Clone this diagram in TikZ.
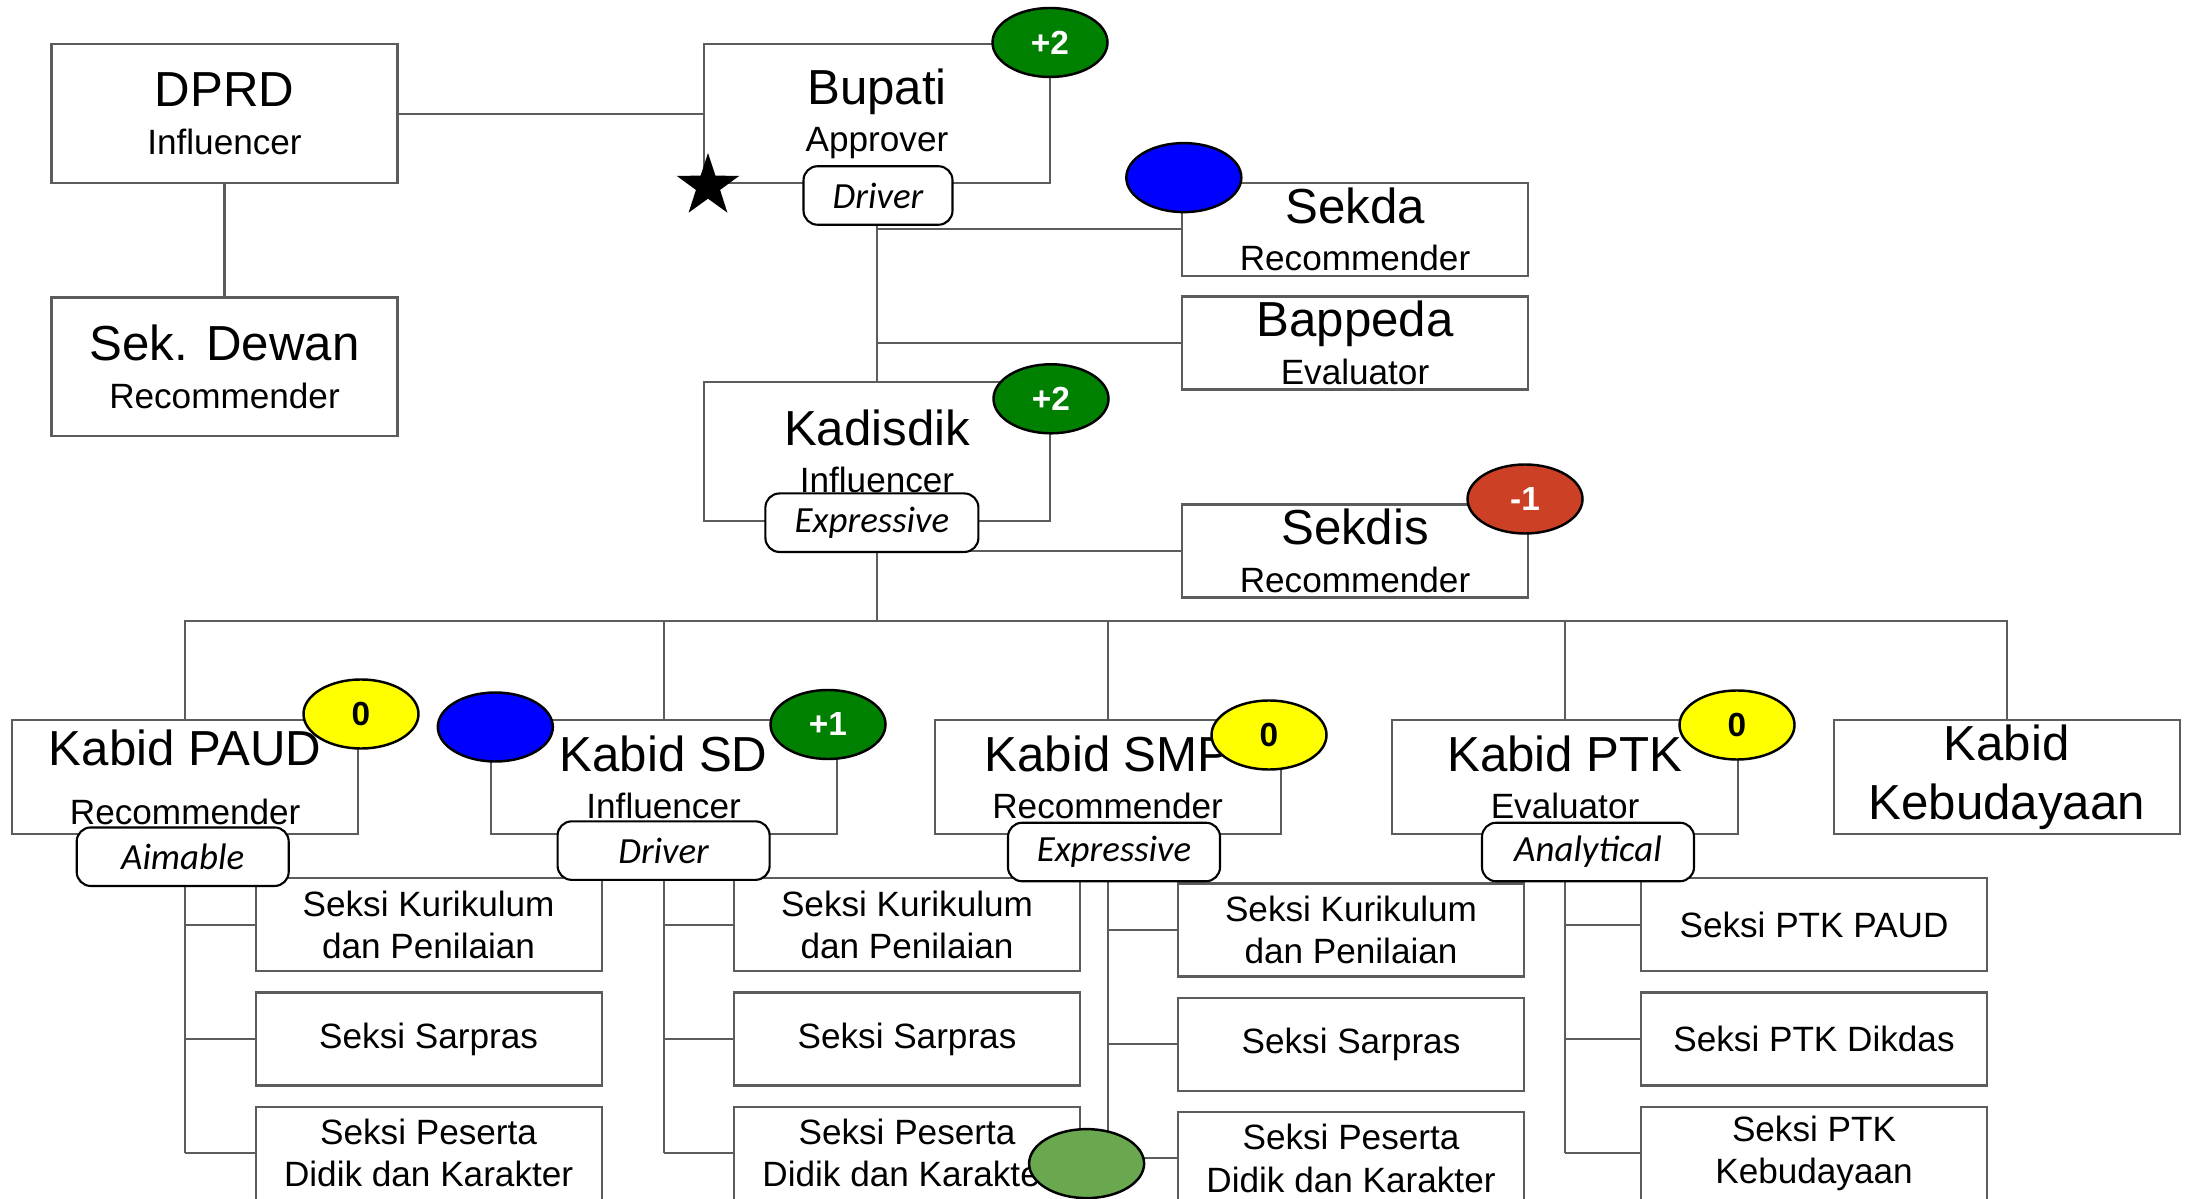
\documentclass[tikz,border=0pt]{standalone}
\usepackage{fontspec}
\setmainfont{Liberation Sans}
\newfontfamily\tagfont{Carlito}
\usetikzlibrary{shapes.geometric}
\definecolor{linegray}{RGB}{92,92,92}
\definecolor{scoregreen}{RGB}{0,128,0}
\definecolor{scoreblue}{RGB}{0,0,255}
\definecolor{scoreyellow}{RGB}{255,255,0}
\definecolor{scorered}{RGB}{204,65,37}
\definecolor{scorelight}{RGB}{106,168,79}
\newcommand{\hdfont}{\fontsize{14}{17}\selectfont}
\begin{document}
\begin{tikzpicture}[
  box/.style={draw=linegray,line width=0.6pt,fill=white,minimum width=3.46cm,minimum height=1.385cm,inner sep=0pt,align=center,font=\fontsize{10}{12}\selectfont,yshift=0pt},
  kabid/.style={box,minimum height=1.14cm},
  seksi/.style={box,minimum height=0.93cm},
  tag/.style={draw,line width=0.6pt,rounded corners=4pt,fill=white,minimum width=2.12cm,minimum height=0.585cm,inner sep=0pt,font=\tagfont\itshape\fontsize{10.5}{12}\selectfont},
  score/.style={ellipse,draw,line width=0.7pt,minimum width=1.15cm,minimum height=0.69cm,inner sep=0pt,font=\bfseries\fontsize{9.5}{11}\selectfont},
  link/.style={draw=linegray,line width=0.6pt}]
\useasboundingbox (0,0) rectangle (21.92,-11.99);
\clip (0,0) rectangle (21.92,-11.99);
% top level
\node[box] (dprd) at (2.245,-1.137) {{\hdfont DPRD}\\[1.5pt]Influencer};
\node[box] (dewan) at (2.245,-3.668) {{\hdfont Sek. Dewan}\\[1.5pt]Recommender};
\node[box] (bupati) at (8.77,-1.137) {{\hdfont Bupati}\\[1.5pt]Approver};
\node[box] (kadisdik) at (8.77,-4.516) {{\hdfont Kadisdik}\\[1.5pt]Influencer};
\node[seksi] (sekda) at (13.55,-2.293) {{\hdfont Sekda}\\[1.5pt]Recommender};
\node[seksi] (bappeda) at (13.55,-3.43) {{\hdfont Bappeda}\\[1.5pt]Evaluator};
\node[seksi] (sekdis) at (13.55,-5.51) {{\hdfont Sekdis}\\[1.5pt]Recommender};
% kabid row
\node[kabid] (kpaud) at (1.852,-7.773) {{\hdfont Kabid PAUD}\\[5pt]Recommender};
\node[kabid] (ksd) at (6.636,-7.773) {{\hdfont Kabid SD}\\[1.5pt]Influencer};
\node[kabid] (ksmp) at (11.076,-7.773) {{\hdfont Kabid SMP}\\[1.5pt]Recommender};
\node[kabid] (kptk) at (15.65,-7.773) {{\hdfont Kabid PTK}\\[1.5pt]Evaluator};
\node[kabid,font=\hdfont] (kbud) at (20.066,-7.773) {Kabid\\Kebudayaan};
% seksi boxes
\foreach \s/\x/\y in {paud/4.286/-9.248,sd/9.07/-9.248,smp/13.51/-9.30} {
  \node[seksi] (\s1) at (\x,\y) {Seksi Kurikulum\\dan Penilaian};
  \node[seksi] (\s2) at (\x,\y-1.142) {Seksi Sarpras};
  \node[seksi] (\s3) at (\x,\y-2.284) {Seksi Peserta\\Didik dan Karakter};
}
\node[seksi] (ptk1) at (18.14,-9.248) {Seksi PTK PAUD};
\node[seksi] (ptk2) at (18.14,-10.39) {Seksi PTK Dikdas};
\node[seksi] (ptk3) at (18.14,-11.532) {Seksi PTK\\Kebudayaan};
% connectors
\draw[link] (dprd) -- (bupati);
\draw[link] (dprd) -- (dewan);
\draw[link] (bupati.south) -- (kadisdik.north);
\draw[link] (bupati.south |- sekda.west) -- (sekda.west);
\draw[link] (bupati.south |- bappeda.west) -- (bappeda.west);
\draw[link] (kadisdik.south |- sekdis.west) -- (sekdis.west);
\coordinate (bus) at (8.77,-6.21);
\draw[link] (kadisdik.south) -- (bus);
\draw[link] (kpaud.north) -- (kpaud.north |- bus) -- (kbud.north |- bus) -- (kbud.north);
\foreach \k in {ksd,ksmp,kptk} \draw[link] (\k.north) -- (\k.north |- bus);
\foreach \k/\s in {kpaud/paud,ksd/sd,ksmp/smp,kptk/ptk} {
  \draw[link] (\k.south) -- (\k.south |- \s3.west);
  \foreach \i in {1,2,3} \draw[link] (\k.south |- \s\i.west) -- (\s\i.west);
}
% style tags
\node[tag,minimum width=1.49cm] (tbup) at (8.78,-1.955) {Driver};
\node[tag,minimum width=2.13cm] (tkad) at (8.719,-5.227) {Expressive};
\node[tag] (tpaud) at (1.827,-8.567) {Aimable};
\node[tag] (tsd) at (6.636,-8.506) {Driver};
\node[tag] (tsmp) at (11.14,-8.52) {Expressive};
\node[tag] (tptk) at (15.88,-8.52) {Analytical};
% scores
\node[score,fill=scoregreen,text=white] (sbup) at (10.50,-0.425) {+2};
\node[score,fill=scoreblue] (ssekda) at (11.838,-1.776) {};
\node[score,fill=scoregreen,text=white] (skad) at (10.51,-3.988) {+2};
\node[score,fill=scorered,text=white] (ssekdis) at (15.25,-4.99) {-1};
\node[score,fill=scoreyellow] (spaud) at (3.61,-7.14) {0};
\node[score,fill=scoreblue] (ssdblue) at (4.953,-7.27) {};
\node[score,fill=scoregreen,text=white] (ssd) at (8.28,-7.245) {+1};
\node[score,fill=scoreyellow] (ssmp) at (12.69,-7.35) {0};
\node[score,fill=scoreyellow] (sptk) at (17.37,-7.25) {0};
\node[score,fill=scorelight] (speserta) at (10.866,-11.636) {};
% decision maker
\node[star,star points=5,star point ratio=2.6,fill=black,minimum size=0.66cm,inner sep=0pt] (keystar) at (7.08,-1.86) {};
\end{tikzpicture}
\end{document}
